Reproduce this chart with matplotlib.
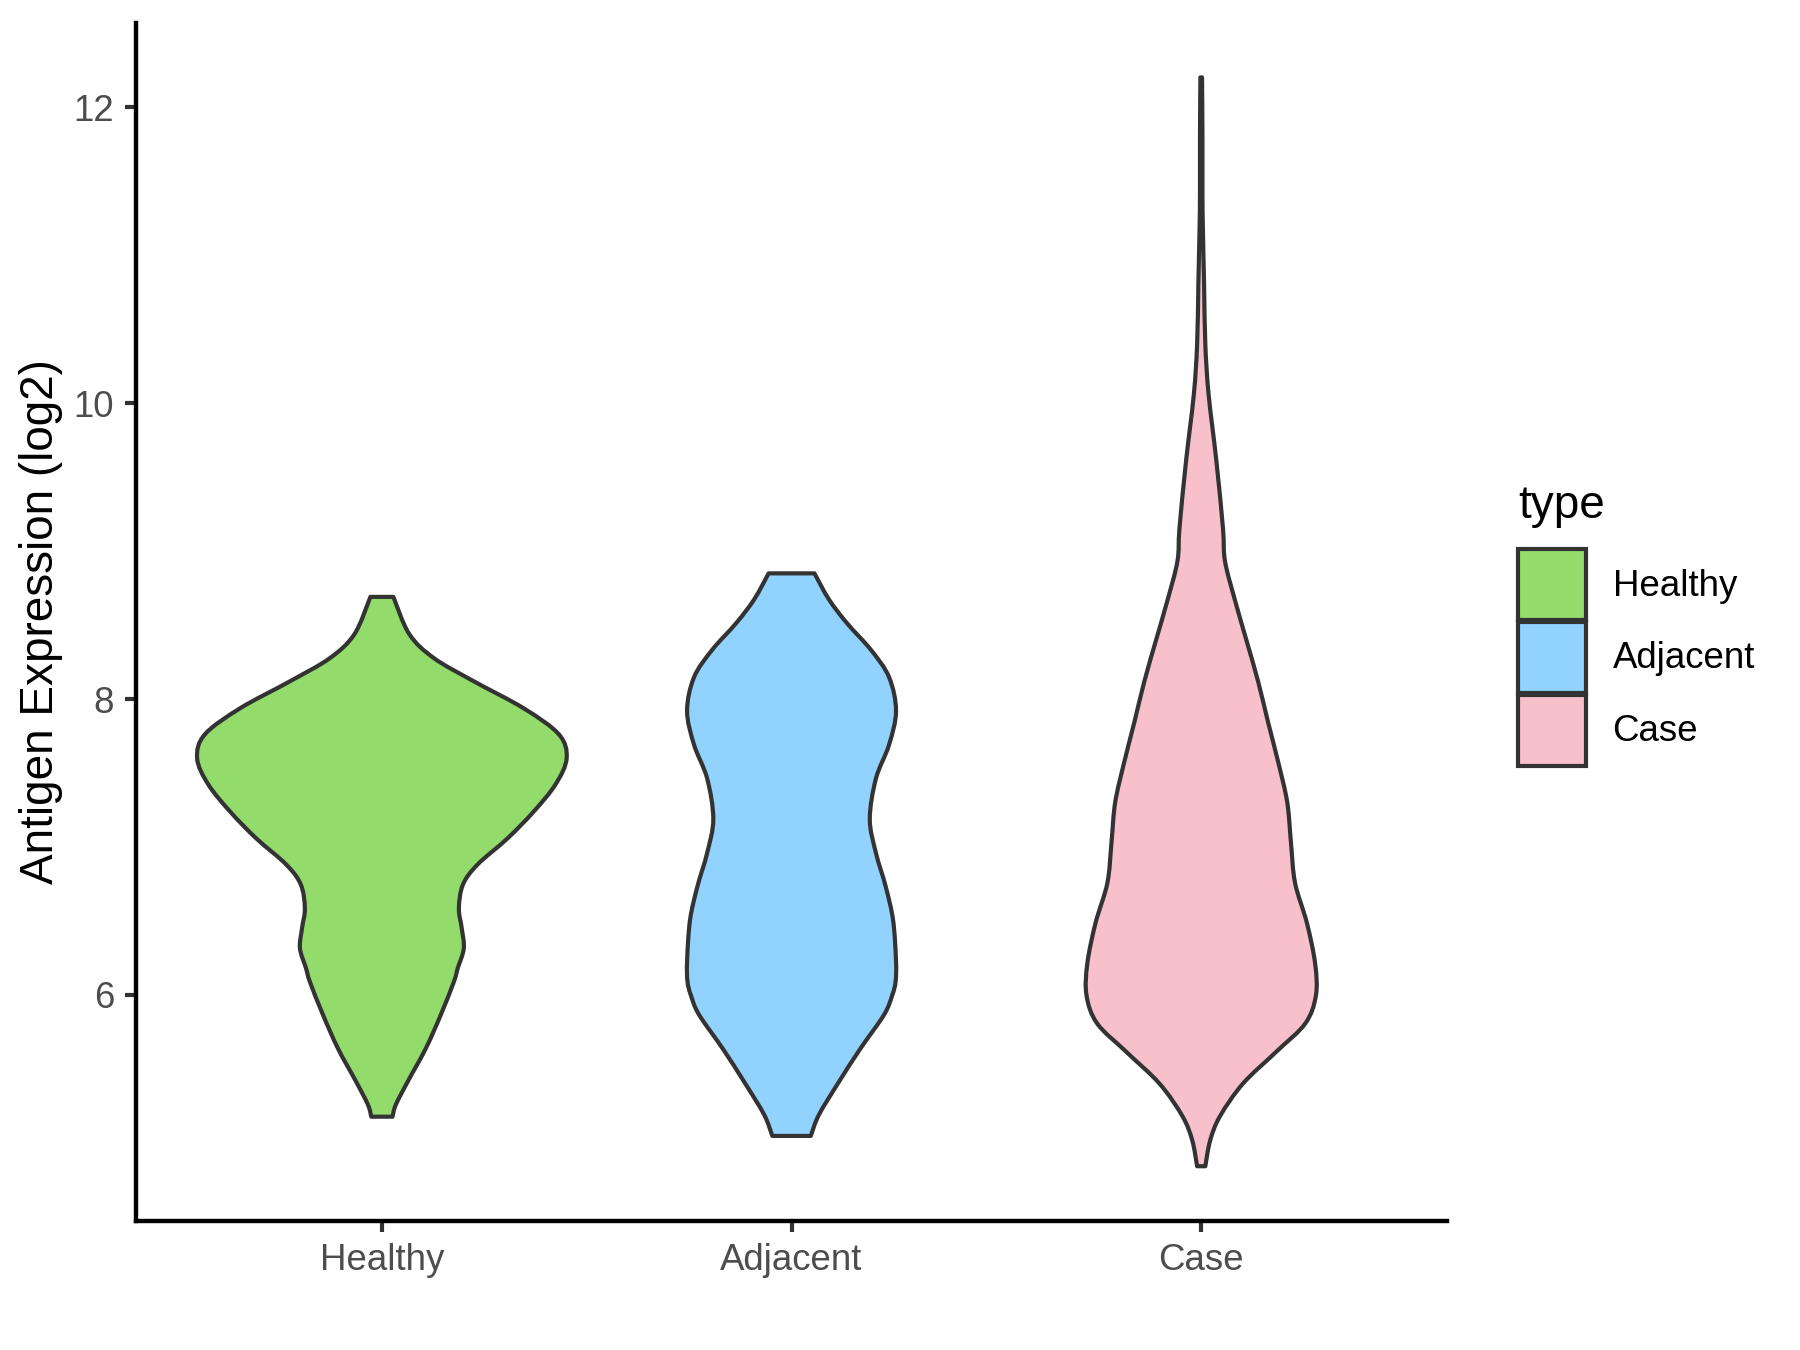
import numpy as np
import matplotlib.pyplot as plt
from matplotlib.patches import Patch, PathPatch
from matplotlib.path import Path

plt.rcParams['font.family'] = ['Liberation Sans', 'DejaVu Sans']

# categories and fills
groups = ['Healthy', 'Adjacent', 'Case']
colors = ['#93DB6A', '#91D2FE', '#F7C0CB']

# violin profiles: value (log2) and half-width (category units)
healthy_y = [8.691, 8.439, 8.277, 8.121, 7.938, 7.762, 7.600, 7.424, 7.241, 7.059, 6.883,
             6.747, 6.585, 6.450, 6.315, 6.179, 6.091, 5.867, 5.637, 5.414, 5.258, 5.177]
healthy_w = [0.028, 0.067, 0.127, 0.224, 0.346, 0.432, 0.451, 0.424, 0.371, 0.307, 0.234,
             0.198, 0.188, 0.195, 0.200, 0.185, 0.176, 0.144, 0.107, 0.063, 0.034, 0.026]

adjacent_y = [8.850, 8.675, 8.514, 8.332, 8.148, 7.920, 7.691, 7.463, 7.189, 6.960, 6.731,
              6.503, 6.229, 6.091, 6.000, 5.867, 5.637, 5.414, 5.191, 5.047]
adjacent_w = [0.056, 0.091, 0.135, 0.194, 0.238, 0.255, 0.238, 0.206, 0.191, 0.206, 0.230,
              0.248, 0.255, 0.254, 0.246, 0.226, 0.168, 0.116, 0.067, 0.047]

case_y = [12.203, 11.8, 11.414, 11.188, 10.8, 10.399, 10.061, 9.610, 9.158, 8.933, 8.662,
          8.392, 8.118, 7.846, 7.573, 7.302, 7.032, 6.758, 6.486, 6.213, 5.997, 5.807,
          5.618, 5.401, 5.181, 5.018, 4.842]
case_w = [0.002, 0.003, 0.003, 0.004, 0.007, 0.010, 0.018, 0.037, 0.053, 0.058, 0.083,
          0.111, 0.139, 0.163, 0.188, 0.210, 0.219, 0.229, 0.258, 0.278, 0.280, 0.254,
          0.184, 0.102, 0.046, 0.022, 0.010]

profiles = [(healthy_y, healthy_w), (adjacent_y, adjacent_w), (case_y, case_w)]


def smooth_side(pts):
    # кривые Безье через точки (Catmull-Rom), только для отрисовки контура
    verts, codes = [], []
    n = len(pts)
    for i in range(n - 1):
        p0 = pts[max(i - 1, 0)]
        p1 = pts[i]
        p2 = pts[i + 1]
        p3 = pts[min(i + 2, n - 1)]
        c1 = p1 + (p2 - p0) / 6
        c2 = p2 - (p3 - p1) / 6
        verts += [c1, c2, p2]
        codes += [Path.CURVE4] * 3
    return verts, codes


fig = plt.figure(figsize=(6, 4.5), dpi=300)
ax = fig.add_axes([0.0756, 0.0958, 0.7283, 0.8872])

for i, (yv, wv) in enumerate(profiles):
    pos = i + 1
    yv = np.array(yv)
    wv = np.array(wv)
    left = np.column_stack([pos - wv, yv])             # сверху вниз
    right = np.column_stack([pos + wv, yv])[::-1]      # снизу вверх
    verts = [left[0]]
    codes = [Path.MOVETO]
    v, c = smooth_side(left)
    verts += v
    codes += c
    verts.append(right[0])
    codes.append(Path.LINETO)
    v, c = smooth_side(right)
    verts += v
    codes += c
    verts.append(left[0])
    codes.append(Path.CLOSEPOLY)
    ax.add_patch(PathPatch(Path(np.array(verts), codes), facecolor=colors[i],
                           edgecolor='#333333', linewidth=1.0, joinstyle='round'))

ax.set_xlim(0.4, 3.6)
ax.set_ylim(4.474, 12.571)
ax.set_xticks([1, 2, 3])
ax.set_xticklabels(groups)
ax.set_yticks([6, 8, 10, 12])

for side in ['top', 'right']:
    ax.spines[side].set_visible(False)
for side in ['left', 'bottom']:
    ax.spines[side].set_color('black')
    ax.spines[side].set_linewidth(1.05)

ax.tick_params(axis='both', length=2.64, width=1.0, color='#333333',
               labelsize=8.8, labelcolor='#4D4D4D', pad=2.6)

ax.set_ylabel('Antigen Expression (log2)', fontsize=11, color='black')
ax.yaxis.set_label_coords(-0.056, 0.5)

# легенда
fig.text(1518 / 1800, 1 - 506 / 1350, 'type', fontsize=11, ha='left', va='center')
handles = [Patch(facecolor=c, edgecolor='#333333', linewidth=1.0) for c in colors]
leg = fig.legend(handles, groups, loc='upper left',
                 bbox_to_anchor=(1518 / 1800, 1 - 549 / 1350),
                 frameon=False, fontsize=8.8,
                 handlelength=1.85, handleheight=2.6, labelspacing=0.05,
                 handletextpad=0.73, borderpad=0, borderaxespad=0)

fig.savefig('out.png', dpi=300)
